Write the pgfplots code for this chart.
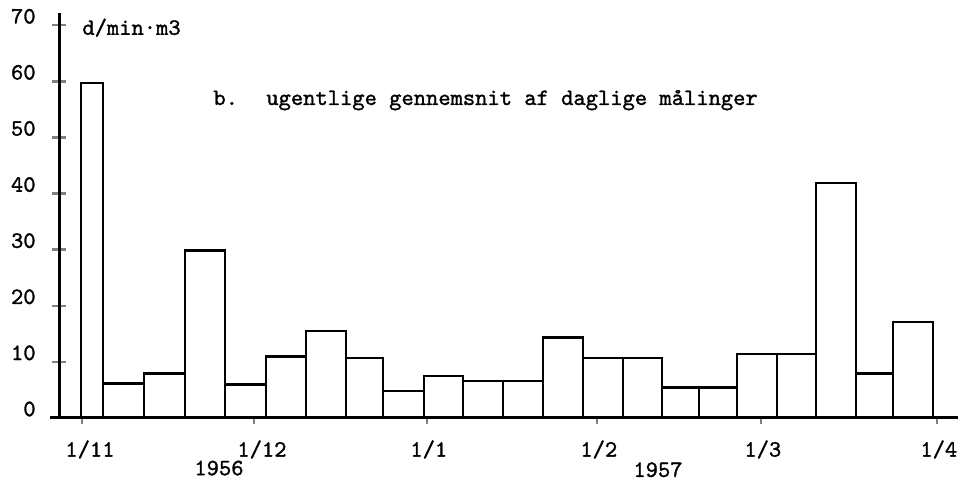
\documentclass[border=0pt]{standalone}
\usepackage{fontspec}
\usepackage{pgfplots}
\pgfplotsset{compat=1.18}
\newfontfamily\twf{lmmono10-regular}[Extension=.otf, FakeBold=1.3]
\newcommand{\tw}{\fontsize{11.7}{14}\selectfont\twf}
\begin{document}
\begin{tikzpicture}
\begin{axis}[
  x=0.5pt, y=2.805pt,
  xmin=-9, xmax=899, ymin=0, ymax=72.2,
  axis x line=middle, axis y line=middle,
  axis line style={-, line width=1.5pt},
  axis on top,
  clip=false,
  hide obscured x ticks=false,
  hide obscured y ticks=false,
  ytick={0,10,20,30,40,50,60,70},
  yticklabels={0,10,20,30,40,50,60,70},
  xtick={23,195,368,538,702,878},
  xticklabels={1/11,1/12,1/1,1/2,1/3,1/4},
  ticklabel style={font=\tw},
  major tick length=7pt,
  ytick align=center,
  xtick align=outside,
  xtick style={line width=1.2pt, /pgfplots/major tick length=3pt},
  ytick style={line width=1.2pt},
  yticklabel style={anchor=east, inner sep=0pt, xshift=-8pt, yshift=4.5pt},
  xticklabel style={anchor=north west, inner sep=0pt, xshift=-8.5pt, yshift=-4pt},
]
\addplot[ybar interval, fill=white, draw=black, line width=1.4pt] coordinates {
 (22,59.7) (44,6.2) (85,8.0) (126,29.8) (166,6.0) (207,10.9) (247,15.5)
 (287,10.7) (324,4.8) (365,7.5) (404,6.6) (444,6.6) (484,14.4) (524,10.7)
 (564,10.7) (603,5.5) (640,5.5) (678,11.4) (718,11.4) (757,41.9) (797,8.0)
 (834,17.1) (874,0)
};
\node[anchor=base west, inner sep=0pt, font=\tw] at (axis cs:23,68.3) {d/min·m3};
\node[anchor=base west, inner sep=0pt, font=\tw] at (axis cs:154,55.8) {b.\hspace{14.2pt}ugentlige gennemsnit af daglige målinger};
\node[anchor=base, inner sep=0pt, font=\tw] at (axis cs:160,-10.2) {1956};
\node[anchor=base, inner sep=0pt, font=\tw] at (axis cs:599,-10.5) {1957};
\coordinate (bbsw) at (axis cs:-59,-11.23);
\coordinate (bbne) at (axis cs:905,74.51);
\end{axis}
\pgfresetboundingbox
\path (bbsw) rectangle (bbne);
\end{tikzpicture}
\end{document}
